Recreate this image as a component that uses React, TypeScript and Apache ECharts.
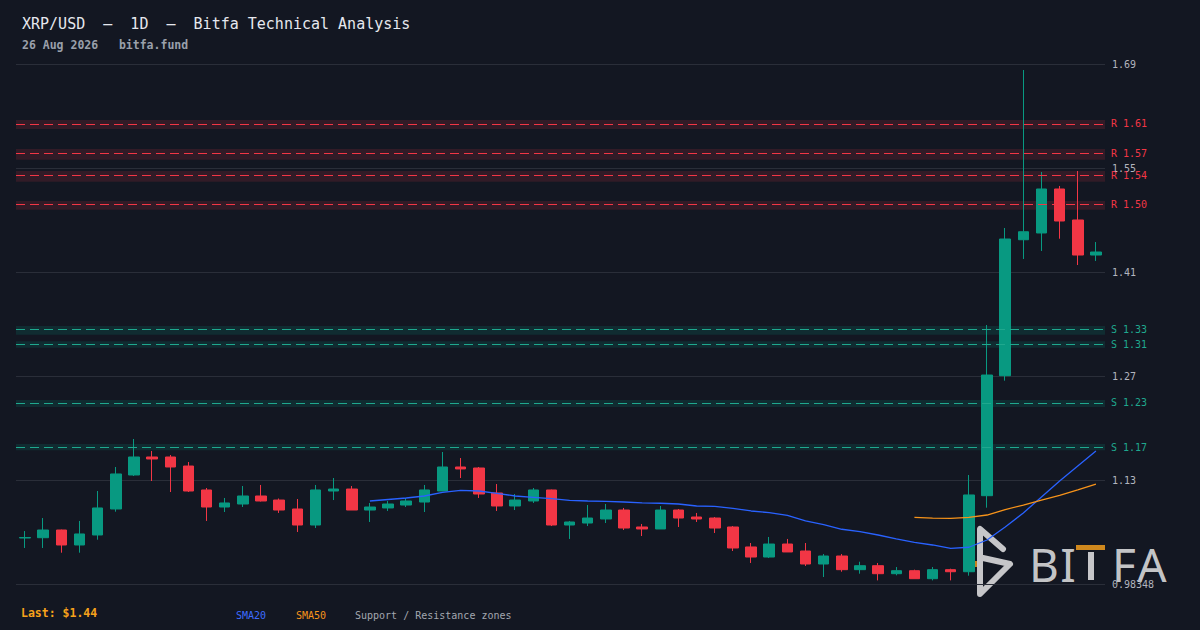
import React, { useEffect, useRef } from "react";
import * as echarts from "echarts";

const BG = "#131722";
const UP = "#089981";
const DOWN = "#f23645";
const SMA20_COLOR = "#2962ff";
const SMA50_COLOR = "#f7931a";
const MONO = "'DejaVu Sans Mono', monospace";

const CATEGORIES = [
  "06-28", "06-29", "06-30",
  "07-01", "07-02", "07-03", "07-04", "07-05", "07-06", "07-07", "07-08", "07-09", "07-10",
  "07-11", "07-12", "07-13", "07-14", "07-15", "07-16", "07-17", "07-18", "07-19", "07-20",
  "07-21", "07-22", "07-23", "07-24", "07-25", "07-26", "07-27", "07-28", "07-29", "07-30", "07-31",
  "08-01", "08-02", "08-03", "08-04", "08-05", "08-06", "08-07", "08-08", "08-09", "08-10",
  "08-11", "08-12", "08-13", "08-14", "08-15", "08-16", "08-17", "08-18", "08-19", "08-20",
  "08-21", "08-22", "08-23", "08-24", "08-25", "08-26",
];

const OPEN = [
  1.0461, 1.0465, 1.057, 1.0366, 1.0502, 1.0856, 1.1319, 1.1564, 1.1564, 1.1441,
  1.1115, 1.0883, 1.0924, 1.1033, 1.0978, 1.0856, 1.0638, 1.1101, 1.1128, 1.0842,
  1.087, 1.091, 1.0951, 1.1101, 1.1428, 1.1414, 1.1074, 1.0897, 1.0965, 1.1115,
  1.0638, 1.0665, 1.072, 1.0842, 1.0611, 1.0584, 1.0842, 1.0747, 1.0733, 1.0611,
  1.0339, 1.0202, 1.0379, 1.0284, 1.0107, 1.0216, 1.003, 1.0084, 0.9975, 1.0016,
  0.9907, 1.003, 1.0002, 1.1037, 1.2671, 1.4522, 1.4614, 1.5213, 1.4791, 1.4314,
];
const CLOSE = [
  1.0468, 1.057, 1.0366, 1.0516, 1.087, 1.1333, 1.1564, 1.1537, 1.1428, 1.1101,
  1.0883, 1.0938, 1.1033, 1.0965, 1.0842, 1.0638, 1.1115, 1.1128, 1.0842, 1.0883,
  1.0924, 1.0965, 1.1115, 1.1428, 1.1401, 1.106, 1.0897, 1.0978, 1.1115, 1.0638,
  1.0679, 1.0733, 1.0842, 1.0597, 1.0584, 1.0842, 1.0733, 1.072, 1.0597, 1.0325,
  1.0202, 1.0379, 1.0271, 1.0107, 1.0216, 1.003, 1.0084, 0.9975, 1.0016, 0.9907,
  1.003, 1.0002, 1.1047, 1.268, 1.4532, 1.4631, 1.5213, 1.4777, 1.4314, 1.4355,
];
const LOW = [
  1.0325, 1.0325, 1.0261, 1.0261, 1.0438, 1.0819, 1.1305, 1.1237, 1.1087, 1.1087,
  1.0693, 1.0815, 1.0883, 1.0958, 1.0802, 1.0543, 1.0597, 1.0978, 1.0842, 1.0679,
  1.0829, 1.0883, 1.0815, 1.1101, 1.1278, 1.1006, 1.0829, 1.0842, 1.0938, 1.0624,
  1.0448, 1.0624, 1.0665, 1.057, 1.0488, 1.0584, 1.0611, 1.0679, 1.0529, 1.0284,
  1.0121, 1.0189, 1.0271, 1.008, 0.993, 1.0002, 0.9975, 0.9884, 0.9953, 0.9907,
  0.9884, 0.9884, 0.9948, 1.0874, 1.2603, 1.426, 1.4369, 1.4536, 1.4178, 1.4233,
];
const HIGH = [
  1.0556, 1.0733, 1.0575, 1.0693, 1.1101, 1.1428, 1.1809, 1.1646, 1.1591, 1.1496,
  1.1142, 1.1006, 1.1169, 1.1183, 1.0999, 1.0992, 1.1183, 1.1278, 1.1169, 1.0938,
  1.0965, 1.1006, 1.1183, 1.1632, 1.155, 1.1428, 1.1196, 1.106, 1.1142, 1.112,
  1.0693, 1.091, 1.0924, 1.087, 1.0652, 1.0897, 1.0856, 1.0802, 1.0747, 1.0624,
  1.0393, 1.0475, 1.0448, 1.0393, 1.0243, 1.0243, 1.0138, 1.0121, 1.0066, 1.003,
  1.0066, 1.0043, 1.1319, 1.3361, 1.4682, 1.6833, 1.5444, 1.5254, 1.5458, 1.4491,
];

const SMA20_VALUES = [
  1.0965, 1.0985, 1.1006, 1.1033, 1.1083, 1.111, 1.1101, 1.107, 1.1033, 1.1015,
  1.0996, 1.0974, 1.0965, 1.0961, 1.0951, 1.0938, 1.0934, 1.0924, 1.0897, 1.0893,
  1.0865, 1.0829, 1.0806, 1.077, 1.0693, 1.0642, 1.058, 1.0547, 1.0502, 1.0448,
  1.0403, 1.0366, 1.0321, 1.0335, 1.0434, 1.0611, 1.0802, 1.1019, 1.1237, 1.1441,
  1.1646,
];
const SMA50_VALUES = [
  1.0743, 1.0733, 1.0729, 1.0743, 1.0774, 1.0849, 1.091, 1.0978, 1.104, 1.1115, 1.1196,
];

const RESISTANCE = [1.6094, 1.5686, 1.5386, 1.4991];
const RESISTANCE_ZONES = [
  [1.603, 1.6152],
  [1.5612, 1.5757],
  [1.5312, 1.5458],
  [1.4931, 1.505],
];
const SUPPORT = [1.3289, 1.3099, 1.2295, 1.17];
const SUPPORT_ZONES = [
  [1.3229, 1.3348],
  [1.3052, 1.3139],
  [1.2245, 1.234],
  [1.1655, 1.1741],
];

const Y_MIN = 0.98348;
const Y_INTERVAL = 0.1416;
const Y_MAX = 1.69148;
const Y_TICK_LABELS = ["0.98348", "1.13", "1.27", "1.41", "1.55", "1.69"];

const LAST_PRICE = "$1.44";

function buildOption() {
  const candles = OPEN.map((o, i) => [o, CLOSE[i], LOW[i], HIGH[i]]);
  const sma20 = new Array(CATEGORIES.length - SMA20_VALUES.length).fill("-").concat(SMA20_VALUES);
  const sma50 = new Array(CATEGORIES.length - SMA50_VALUES.length).fill("-").concat(SMA50_VALUES);

  const levelLine = (v: number, prefix: string, color: string) => ({
    yAxis: v,
    lineStyle: { color, type: [9, 5], width: 1 },
    label: {
      show: true,
      position: "end",
      distance: 6,
      formatter: `${prefix} ${v.toFixed(2)}`,
      color,
      fontFamily: MONO,
      fontSize: 10,
    },
  });

  const zone = (z: number[], color: string) => [
    { yAxis: z[0], itemStyle: { color } },
    { yAxis: z[1] },
  ];

  return {
    animation: false,
    backgroundColor: BG,
    grid: { left: 16, right: 95, top: 64, bottom: 46 },
    xAxis: {
      type: "category",
      data: CATEGORIES,
      boundaryGap: true,
      axisLine: { show: false },
      axisTick: { show: false },
      axisLabel: { show: false },
      splitLine: { show: false },
    },
    yAxis: {
      type: "value",
      position: "right",
      min: Y_MIN,
      max: Y_MAX,
      interval: Y_INTERVAL,
      scale: true,
      axisLine: { show: false },
      axisTick: { show: false },
      splitLine: { show: true, lineStyle: { color: "#2a2e39", width: 1 } },
      axisLabel: {
        color: "#b2b5be",
        fontFamily: MONO,
        fontSize: 10,
        margin: 7,
        formatter: (_v: number, idx: number) => Y_TICK_LABELS[idx] ?? "",
      },
    },
    series: [
      {
        name: "SMA20",
        type: "line",
        data: sma20,
        symbol: "none",
        lineStyle: { color: SMA20_COLOR, width: 1.3 },
        itemStyle: { color: SMA20_COLOR },
        silent: true,
        markArea: {
          silent: true,
          data: [
            ...RESISTANCE_ZONES.map((z) => zone(z, "rgba(242,54,69,0.14)")),
            ...SUPPORT_ZONES.map((z) => zone(z, "rgba(8,153,129,0.16)")),
          ],
        },
        markLine: {
          silent: true,
          symbol: ["none", "none"],
          data: [
            ...RESISTANCE.map((v) => levelLine(v, "R", DOWN)),
            ...SUPPORT.map((v) => levelLine(v, "S", "#1fa88e")),
          ],
        },
      },
      {
        name: "SMA50",
        type: "line",
        data: sma50,
        symbol: "none",
        lineStyle: { color: SMA50_COLOR, width: 1.3 },
        itemStyle: { color: SMA50_COLOR },
        silent: true,
      },
      {
        name: "XRP",
        type: "candlestick",
        data: candles,
        barWidth: 11,
        itemStyle: {
          color: UP,
          color0: DOWN,
          borderColor: UP,
          borderColor0: DOWN,
          borderWidth: 1,
        },
      },
    ],
    graphic: [
      {
        type: "text",
        x: 22,
        y: 24,
        style: {
          text: "XRP/USD  —  1D  —  Bitfa Technical Analysis",
          fill: "#e6e8ee",
          fontFamily: MONO,
          fontSize: 15,
          textVerticalAlign: "middle",
        },
      },
      {
        type: "text",
        x: 22,
        y: 45,
        style: {
          text: "26 Aug 2026   bitfa.fund",
          fill: "#9aa0ab",
          fontFamily: MONO,
          fontSize: 11.5,
          fontWeight: "bold",
          textVerticalAlign: "middle",
        },
      },
      {
        type: "text",
        x: 21,
        y: 613,
        style: {
          text: `Last: ${LAST_PRICE}`,
          fill: "#f7a21b",
          fontFamily: MONO,
          fontSize: 11.5,
          fontWeight: "bold",
          textVerticalAlign: "middle",
        },
      },
      {
        type: "text",
        x: 236,
        y: 615,
        style: { text: "SMA20", fill: "#3d6cff", fontFamily: MONO, fontSize: 10, textVerticalAlign: "middle" },
      },
      {
        type: "text",
        x: 296,
        y: 615,
        style: { text: "SMA50", fill: SMA50_COLOR, fontFamily: MONO, fontSize: 10, textVerticalAlign: "middle" },
      },
      {
        type: "text",
        x: 355,
        y: 615,
        style: {
          text: "Support / Resistance zones",
          fill: "#a3a7b0",
          fontFamily: MONO,
          fontSize: 10,
          textVerticalAlign: "middle",
        },
      },
      // BITFA logo
      {
        type: "group",
        z: 100,
        children: [
          {
            type: "polyline",
            shape: {
              points: [
                [1003, 549],
                [980, 529],
                [980, 594],
                [1010, 564],
                [983, 558],
              ],
            },
            style: {
              stroke: "#d6d6d8",
              lineWidth: 6,
              fill: null,
              lineCap: "round",
              lineJoin: "round",
              opacity: 0.92,
            },
          },
          {
            type: "rect",
            shape: { x: 967, y: 561, width: 10, height: 6 },
            style: { fill: "#d98e1e", opacity: 0.9 },
          },
          {
            type: "text",
            x: 1044,
            y: 564,
            style: {
              text: "B",
              fill: "#d6d6d8",
              opacity: 0.92,
              fontFamily: "'Noto Sans', sans-serif",
              fontSize: 46,
              textAlign: "center",
              textVerticalAlign: "middle",
            },
          },
          {
            type: "text",
            x: 1068,
            y: 564,
            style: {
              text: "I",
              fill: "#d6d6d8",
              opacity: 0.92,
              fontFamily: "'Noto Sans', sans-serif",
              fontSize: 46,
              textAlign: "center",
              textVerticalAlign: "middle",
            },
          },
          {
            type: "rect",
            shape: { x: 1088, y: 552, width: 6, height: 28 },
            style: { fill: "#d6d6d8", opacity: 0.92 },
          },
          {
            type: "rect",
            shape: { x: 1076, y: 545, width: 29, height: 5 },
            style: { fill: "#d98e1e", opacity: 0.95 },
          },
          {
            type: "text",
            x: 1124,
            y: 564,
            style: {
              text: "F",
              fill: "#d6d6d8",
              opacity: 0.92,
              fontFamily: "'Noto Sans', sans-serif",
              fontSize: 46,
              textAlign: "center",
              textVerticalAlign: "middle",
            },
          },
          {
            type: "text",
            x: 1152,
            y: 564,
            style: {
              text: "A",
              fill: "#d6d6d8",
              opacity: 0.92,
              fontFamily: "'Noto Sans', sans-serif",
              fontSize: 46,
              textAlign: "center",
              textVerticalAlign: "middle",
            },
          },
        ],
      },
    ],
  };
}

export default function App() {
  const ref = useRef<HTMLDivElement>(null);
  useEffect(() => {
    document.body.style.margin = "0";
    document.body.style.background = BG;
    const chart = echarts.init(ref.current as HTMLDivElement, null, { renderer: "svg" });
    chart.setOption(buildOption() as any);
    return () => chart.dispose();
  }, []);
  return <div ref={ref} style={{ width: 1200, height: 630, background: BG }} />;
}
